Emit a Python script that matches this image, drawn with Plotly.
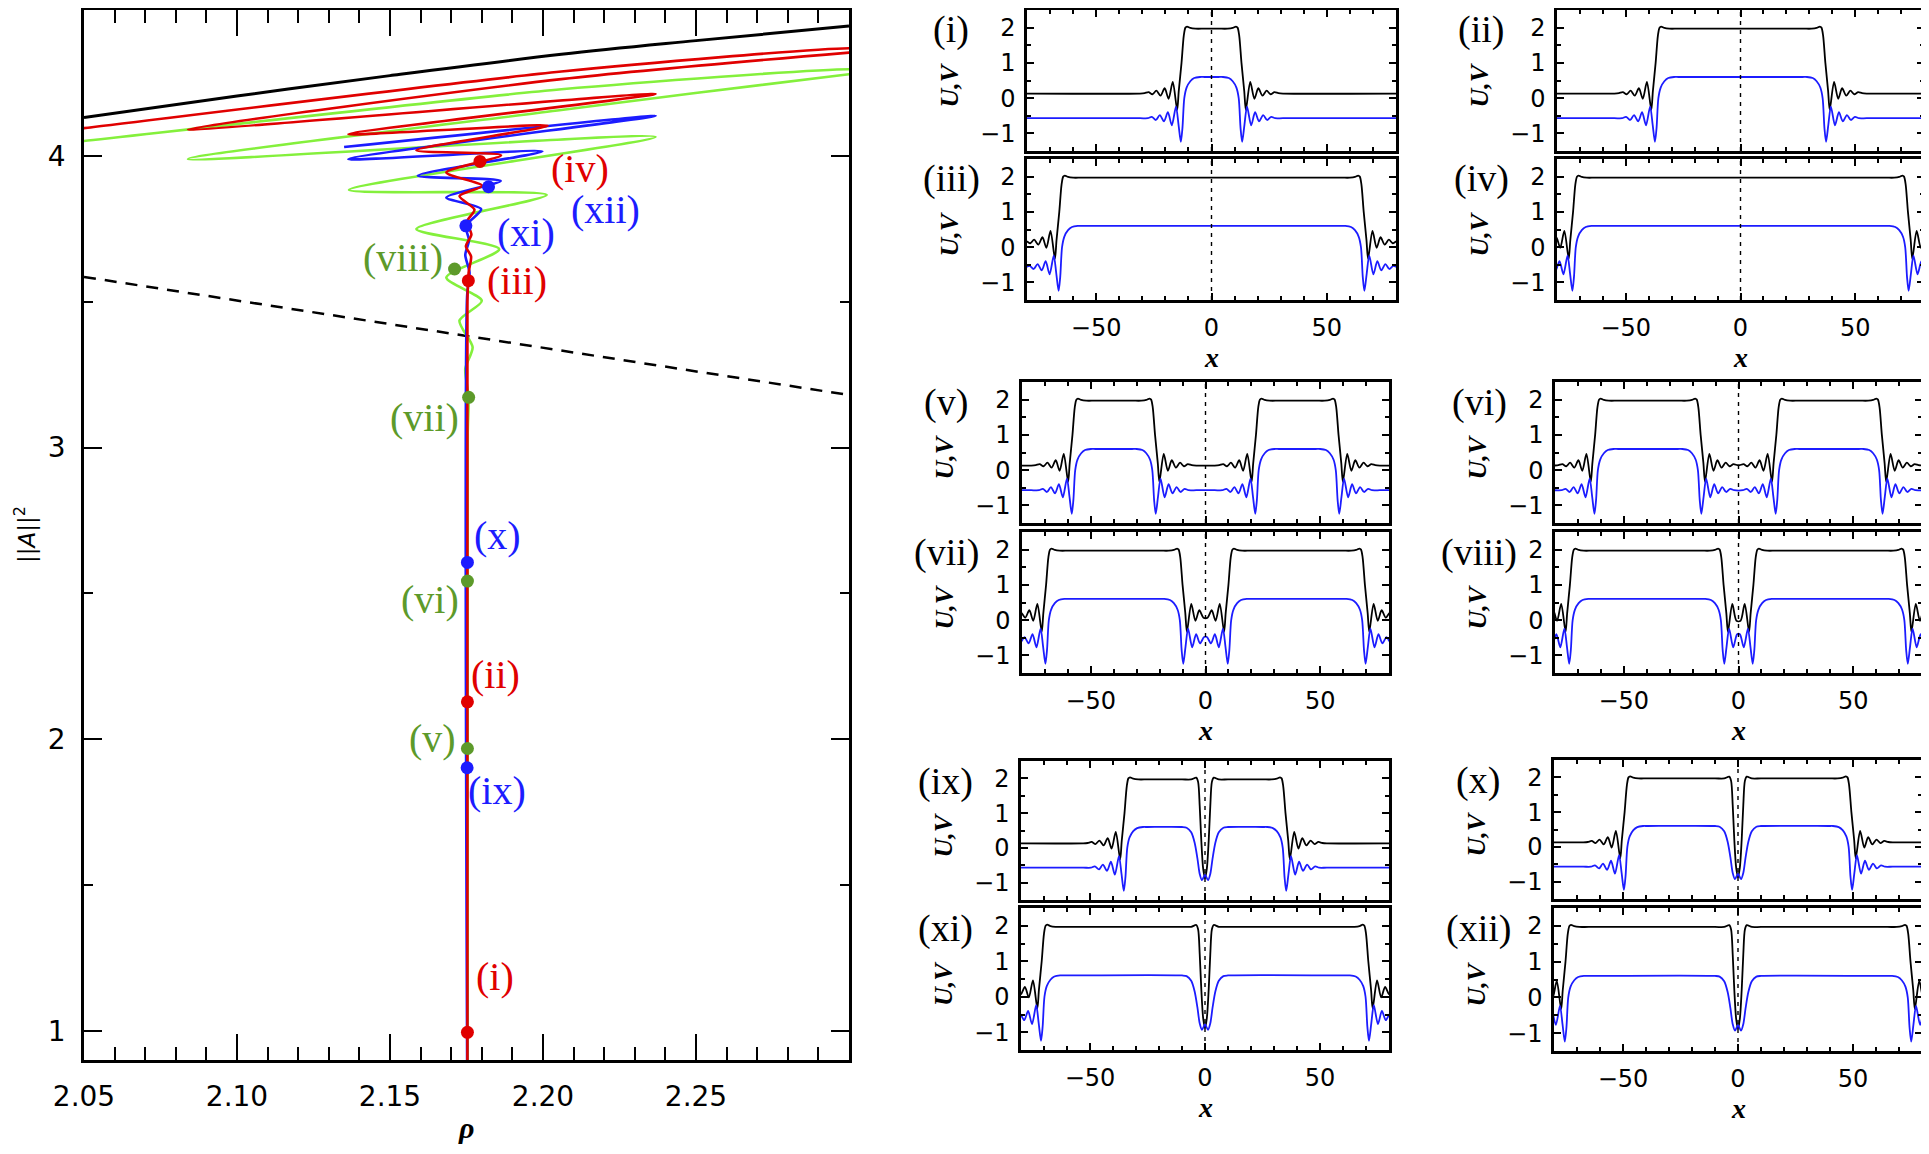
import numpy as np
import plotly.graph_objects as go

W, H = 1929, 1154          # reference picture size
OFF = 8                    # page body margin of the browser
FW, FH = W - OFF, H - 2 * OFF

# ---------------- left panel: bifurcation diagram data ----------------
BLACK_RHO = [2.05, 2.10, 2.15, 2.206, 2.25, 2.30]
BLACK_VAL = [4.131, 4.205, 4.275, 4.348, 4.395, 4.445]

DASH_RHO = [2.05, 2.30]
DASH_VAL = [3.585, 3.18]

RED_RHO = [2.1753, 2.1753, 2.1757, 2.1765, 2.1748, 2.1766, 2.1752, 2.1776, 2.1727,
           2.1801, 2.1684, 2.1863, 2.1586, 2.2015, 2.1364, 2.2368, 2.0840, 2.2060,
           2.3000, 2.3100, 2.3000, 2.2060, 2.0500, 2.0400]
RED_VAL = [0.90, 3.50, 3.60, 3.655, 3.690, 3.730, 3.775, 3.815, 3.862,
           3.897, 3.943, 4.002, 4.019, 4.103, 4.074, 4.212, 4.091, 4.263,
           4.354, 4.362, 4.369, 4.289, 4.095, 4.083]

BLUE_RHO = [2.1752, 2.1752, 2.1760, 2.1746, 2.1758, 2.1748, 2.1798, 2.1684, 2.1862,
            2.1591, 2.1998, 2.1364, 2.2368, 2.1350]
BLUE_VAL = [0.90, 3.52, 3.60, 3.66, 3.71, 3.76, 3.817, 3.857, 3.914,
            3.932, 4.015, 3.989, 4.137, 4.030]

GREEN_RHO = [2.1754, 2.1754, 2.1757, 2.1746, 2.1770, 2.1727, 2.1800, 2.1684, 2.1857,
             2.1586, 2.2012, 2.1366, 2.2368, 2.0840, 2.2060, 2.3000, 2.3100, 2.3000,
             2.2060, 2.0500, 2.0400]
GREEN_VAL = [0.90, 3.05, 3.172, 3.27, 3.344, 3.435, 3.503, 3.583, 3.680,
             3.749, 3.866, 3.883, 4.065, 3.989, 4.157, 4.280, 4.290, 4.297,
             4.228, 4.051, 4.040]

DOT_NAME = ["(i)", "(ii)", "(iii)", "(iv)", "(v)", "(vi)", "(vii)", "(viii)",
            "(ix)", "(x)", "(xi)", "(xii)"]
DOT_RHO = [2.1753, 2.1753, 2.1756, 2.1794, 2.1753, 2.1753, 2.1757, 2.1711,
           2.1752, 2.1753, 2.1748, 2.1822]
DOT_VAL = [0.995, 2.128, 3.572, 3.981, 1.968, 2.542, 3.172, 3.612,
           1.902, 2.606, 3.760, 3.894]
DOT_FAMILY = ["r", "r", "r", "r", "g", "g", "g", "g", "b", "b", "b", "b"]

# ---------------- right panels: profile data ----------------
X_MIN, X_MAX = -80, 80
U_BG, V_BG = 0.13, -0.57

# one front (low -> high going right), offsets from the point where U = 1
FRONT_U_DX = [-18.0, -16.0, -14.3, -12.6, -10.9, -9.1, -7.3, -5.6, -3.8, -1.9, -1.2,
              0.0, 1.0, 1.7, 2.4, 3.8, 6.0, 10.0]
FRONT_U = [0.13, 0.14, 0.17, 0.11, 0.21, 0.07, 0.28, -0.02, 0.46, -0.33, 0.20,
           1.00, 1.78, 2.00, 2.03, 1.99, 1.97, 1.97]
FRONT_V_DX = [-18.0, -14.6, -12.9, -11.1, -9.4, -7.6, -5.9, -4.2, -2.4, -1.3, -0.3,
              0.4, 1.2, 2.2, 3.8, 5.5, 8.0, 10.0]
FRONT_V = [-0.57, -0.57, -0.53, -0.62, -0.48, -0.66, -0.40, -0.77, -0.24, -0.75, -1.24,
           -0.85, 0.00, 0.30, 0.48, 0.57, 0.60, 0.60]

# narrow hole between two touching pulses (left half, centre at 0)
HOLE_U_DX = [-10.0, -6.0, -3.8, -3.0, -2.3, -1.6, -0.8, 0.0]
HOLE_U = [1.97, 1.97, 2.02, 1.90, 1.20, 0.20, -0.60, -0.88]
HOLE_V_DX = [-10.0, -8.0, -6.0, -4.5, -3.3, -2.3, -1.3, 0.0]
HOLE_V = [0.60, 0.58, 0.45, 0.15, -0.30, -0.75, -0.93, -0.78]

# pulses (U=1 crossings) for every profile panel
PULSES = {
    "(i)": [(-13.0, 13.0)],
    "(ii)": [(-37.0, 37.0)],
    "(iii)": [(-66.0, 66.0)],
    "(iv)": [(-73.0, 73.0)],
    "(v)": [(-58.0, -22.0), (22.0, 58.0)],
    "(vi)": [(-62.5, -16.5), (16.5, 62.5)],
    "(vii)": [(-69.5, -10.0), (10.0, 69.5)],
    "(viii)": [(-73.5, -6.5), (6.5, 73.5)],
    "(ix)": [(-35.0, -1.5), (1.5, 35.0)],
    "(x)": [(-49.3, -1.5), (1.5, 49.3)],
    "(xi)": [(-71.0, -1.5), (1.5, 71.0)],
    "(xii)": [(-75.0, -1.5), (1.5, 75.0)],
}


def build_profile(pulses, f_dx, f_val, h_dx, h_val, bg):
    elems = []
    for a, b in pulses:
        elems.append((a, "front", 1))
        elems.append((b, "front", -1))
    merged, i = [], 0
    while i < len(elems):
        if (i + 1 < len(elems) and elems[i][2] == -1 and elems[i + 1][2] == 1
                and elems[i + 1][0] - elems[i][0] < 6):
            merged.append(((elems[i][0] + elems[i + 1][0]) / 2, "hole", 1))
            i += 2
        else:
            merged.append(elems[i])
            i += 1
    xs, ys = [], []
    for k, (c, kind, d) in enumerate(merged):
        lo = -1e9 if k == 0 else (merged[k - 1][0] + c) / 2
        hi = 1e9 if k == len(merged) - 1 else (c + merged[k + 1][0]) / 2
        if kind == "front":
            px = [c + d * dx for dx in f_dx]
            pv = list(f_val)
        else:
            px = [c + dx for dx in h_dx] + [c - dx for dx in h_dx[::-1][1:]]
            pv = list(h_val) + list(h_val[::-1][1:])
        for x, v in zip(px, pv):
            if lo <= x <= hi:
                xs.append(x)
                ys.append(v)
    order = np.argsort(xs)
    xs = [xs[j] for j in order]
    ys = [ys[j] for j in order]
    if xs[0] > X_MIN:
        xs.insert(0, X_MIN)
        ys.insert(0, bg)
    if xs[-1] < X_MAX:
        xs.append(X_MAX)
        ys.append(bg)
    return xs, ys


# ---------------- layout helpers (reference pixels -> paper) ----------------
def fx(p):
    return (p - OFF) / FW


def fy(p):
    return 1 - (p - OFF) / FH


def sfx(k):
    return "" if k == 1 else str(k)


RED = "#e00000"
GREEN_LINE = "#84f03c"
GREEN_DOT = "#5d9a2a"
BLUE = "#1c1cff"
FAM_DOT = {"r": RED, "g": GREEN_DOT, "b": BLUE}

TICK_FONT = "DejaVu Sans"
SERIF = "Liberation Serif"

fig = go.Figure()
layout = dict(
    width=FW, height=FH, margin=dict(l=0, r=0, t=0, b=0, autoexpand=False),
    paper_bgcolor="white", plot_bgcolor="white", showlegend=False,
)
annotations = []
shapes = []


def note(x, y, text, size, color="black", family=SERIF, angle=0, xref="paper", yref="paper"):
    annotations.append(dict(x=x, y=y, xref=xref, yref=yref, text=text, showarrow=False,
                            xanchor="center", yanchor="middle", textangle=angle,
                            font=dict(family=family, size=size, color=color)))


# ---- left diagram axes (index 13)
LX0, LX1, LY0, LY1 = 84, 849, 10, 1060
layout["xaxis13"] = dict(
    domain=[fx(LX0), fx(LX1)], range=[2.05, 2.30], anchor="y13", automargin=False,
    tickvals=[2.05, 2.10, 2.15, 2.20, 2.25], ticktext=["2.05", "2.10", "2.15", "2.20", "2.25"],
    ticks="inside", ticklen=26, tickwidth=2, tickcolor="black",
    minor=dict(dtick=0.01, tick0=2.05, ticks="inside", ticklen=13, tickwidth=2, tickcolor="black", showgrid=False),
    showline=True, linewidth=2.5, linecolor="black", mirror="allticks",
    showgrid=False, zeroline=False, ticklabelstandoff=10,
    tickfont=dict(family=TICK_FONT, size=28, color="black"),
)
layout["yaxis13"] = dict(
    domain=[fy(LY1), fy(LY0)], range=[0.9, 4.5], anchor="x13", automargin=False,
    tickvals=[1, 2, 3, 4], ticks="inside", ticklen=18, tickwidth=2, tickcolor="black",
    minor=dict(dtick=0.5, tick0=0, ticks="inside", ticklen=9, tickwidth=2, tickcolor="black", showgrid=False),
    showline=True, linewidth=2.5, linecolor="black", mirror="allticks",
    showgrid=False, zeroline=False, ticklabelstandoff=10,
    tickfont=dict(family=TICK_FONT, size=28, color="black"),
)

fig.add_trace(go.Scatter(x=BLACK_RHO, y=BLACK_VAL, mode="lines", xaxis="x13", yaxis="y13",
                         line=dict(color="black", width=3, shape="spline")))
fig.add_trace(go.Scatter(x=DASH_RHO, y=DASH_VAL, mode="lines", xaxis="x13", yaxis="y13",
                         line=dict(color="black", width=2.5, dash="12px,9px")))
for rr, vv, col in [(GREEN_RHO, GREEN_VAL, GREEN_LINE), (BLUE_RHO, BLUE_VAL, BLUE),
                    (RED_RHO, RED_VAL, RED)]:
    fig.add_trace(go.Scatter(x=rr, y=vv, mode="lines", xaxis="x13", yaxis="y13",
                             line=dict(color=col, width=2.6, shape="spline", smoothing=0.7)))
fig.add_trace(go.Scatter(x=DOT_RHO, y=DOT_VAL, mode="markers", xaxis="x13", yaxis="y13",
                         marker=dict(size=13, color=[FAM_DOT[f] for f in DOT_FAMILY], line=dict(width=0))))

# labels next to the dots (data coordinates of left diagram)
LABEL_POS = {
    "(i)": (2.1843, 1.185), "(ii)": (2.1845, 2.222), "(iii)": (2.1916, 3.572),
    "(iv)": (2.2120, 3.955), "(v)": (2.1640, 2.003), "(vi)": (2.1630, 2.480),
    "(vii)": (2.1613, 3.104), "(viii)": (2.1542, 3.652), "(ix)": (2.1850, 1.824),
    "(x)": (2.1851, 2.699), "(xi)": (2.1944, 3.737), "(xii)": (2.2205, 3.815),
}
for name, fam in zip(DOT_NAME, DOT_FAMILY):
    lx, ly = LABEL_POS[name]
    note(lx, ly, name, 40, FAM_DOT[fam], xref="x13", yref="y13")

note(fx(25), fy(535), "||<i>A</i>||<sup>2</sup>", 23, family=TICK_FONT, angle=-90)
note(fx(466), fy(1127), "<b><i>ρ</i></b>", 30)

# ---- profile panels
PANELS = [
    # name, left, right, top, bottom, show x labels
    ("(i)", 1027, 1396, 10, 151, False),
    ("(iii)", 1027, 1396, 159, 300, True),
    ("(ii)", 1557, 1924, 10, 151, False),
    ("(iv)", 1557, 1924, 159, 300, True),
    ("(v)", 1022, 1389, 382, 523, False),
    ("(vii)", 1022, 1389, 532, 673, True),
    ("(vi)", 1555, 1922, 382, 523, False),
    ("(viii)", 1555, 1922, 532, 673, True),
    ("(ix)", 1021, 1389, 761, 900, False),
    ("(xi)", 1021, 1389, 908, 1050, True),
    ("(x)", 1554, 1922, 760, 899, False),
    ("(xii)", 1554, 1922, 908, 1051, True),
]

for k, (name, pl, pr, pt, pb, showx) in enumerate(PANELS, start=1):
    s = sfx(k)
    layout["xaxis" + s] = dict(
        domain=[fx(pl), fx(pr)], range=[X_MIN, X_MAX], anchor="y" + s, automargin=False,
        tickvals=[-50, 0, 50], ticks="inside", ticklen=7, tickwidth=1.5, tickcolor="black",
        minor=dict(dtick=10, tick0=0, ticks="inside", ticklen=4, tickwidth=1.5, tickcolor="black", showgrid=False),
        showline=True, linewidth=2.5, linecolor="black", mirror="allticks",
        showgrid=False, zeroline=False, showticklabels=showx, ticklabelstandoff=4,
        tickfont=dict(family=TICK_FONT, size=24, color="black"),
    )
    layout["yaxis" + s] = dict(
        domain=[fy(pb), fy(pt)], range=[-1.5, 2.5], anchor="x" + s, automargin=False,
        tickvals=[-1, 0, 1, 2], ticks="inside", ticklen=7, tickwidth=1.5, tickcolor="black",
        minor=dict(dtick=0.5, tick0=0, ticks="inside", ticklen=4, tickwidth=1.5, tickcolor="black", showgrid=False),
        showline=True, linewidth=2.5, linecolor="black", mirror="allticks",
        showgrid=False, zeroline=False, ticklabelstandoff=4,
        tickfont=dict(family=TICK_FONT, size=24, color="black"),
    )
    ux, uy = build_profile(PULSES[name], FRONT_U_DX, FRONT_U, HOLE_U_DX, HOLE_U, U_BG)
    vx, vy = build_profile(PULSES[name], FRONT_V_DX, FRONT_V, HOLE_V_DX, HOLE_V, V_BG)
    fig.add_trace(go.Scatter(x=ux, y=uy, mode="lines", xaxis="x" + s, yaxis="y" + s,
                             line=dict(color="black", width=1.8, shape="spline", smoothing=0.8)))
    fig.add_trace(go.Scatter(x=vx, y=vy, mode="lines", xaxis="x" + s, yaxis="y" + s,
                             line=dict(color=BLUE, width=1.8, shape="spline", smoothing=0.8)))
    shapes.append(dict(type="line", xref="x" + s, yref="y" + s + " domain", x0=0, x1=0, y0=0, y1=1,
                       line=dict(color="black", width=1.4, dash="4px,5px")))
    note(fx(pl - 76), fy(pt + 20), name, 38)
    note(fx(pl - 78), fy((pt + pb) / 2 + 5), "<b><i>U,V</i></b>", 26, angle=-90)
    if showx:
        note(fx((pl + pr) / 2), fy(pb + 57), "<b><i>x</i></b>", 28)

layout["annotations"] = annotations
layout["shapes"] = shapes
fig.update_layout(**layout)
fig.write_html("out.html")
